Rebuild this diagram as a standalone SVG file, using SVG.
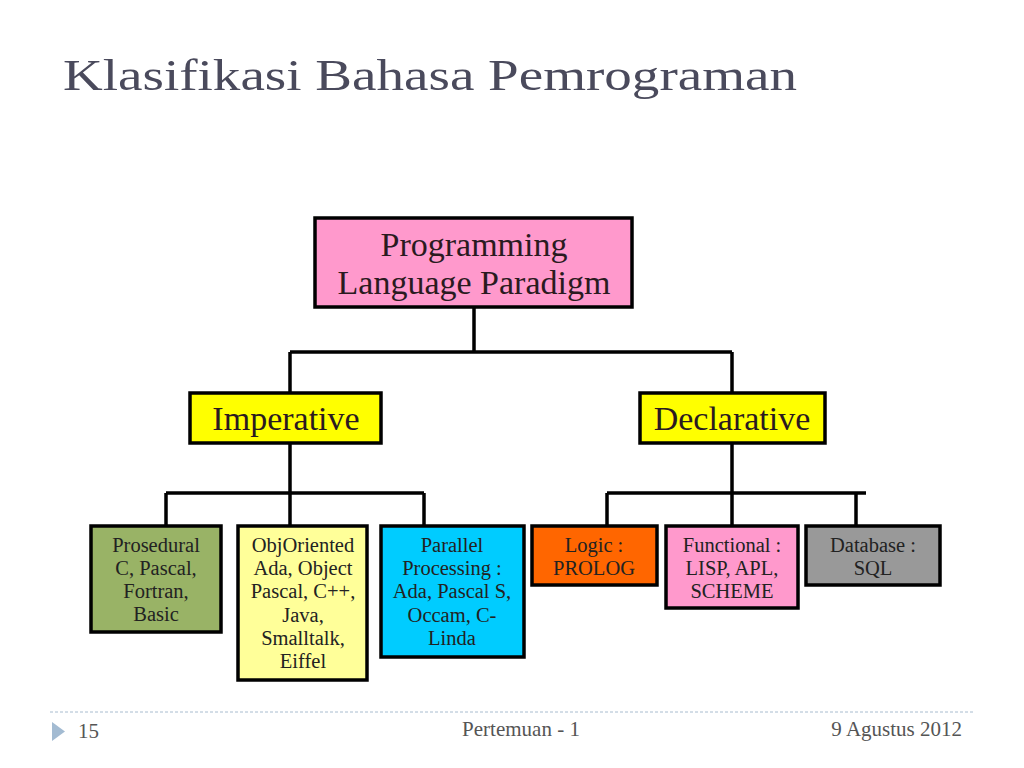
<svg xmlns="http://www.w3.org/2000/svg" width="1024" height="768" viewBox="0 0 1024 768">
<style>
.box{stroke:#000;stroke-width:3.5}
.big{font-family:"Liberation Serif",serif;font-size:34px;fill:#2a1a20;text-anchor:middle}
.leaf{font-family:"Liberation Serif",serif;font-size:20.5px;fill:#222;text-anchor:middle}
.conn{stroke:#000;stroke-width:3.5;fill:none}
.foot{font-family:"Liberation Serif",serif;font-size:21px;fill:#555}
</style>
<rect width="1024" height="768" fill="#fff"/>
<text x="63" y="90" font-family="Liberation Serif,serif" font-size="45" fill="#4a4a5c" textLength="734" lengthAdjust="spacingAndGlyphs">Klasifikasi Bahasa Pemrograman</text>

<g id="connectors">
<path class="conn" d="M474 307V352M290 352H732M290 352V393M732 352V393"/>
<path class="conn" d="M290 443V526M166 493H424M166 493V526M424 493V526"/>
<path class="conn" d="M732 443V530M607 493H866M607 493V526M856 493V526"/>
</g>

<g id="root">
<rect class="box" x="315" y="218" width="317" height="89" fill="#ff99cc"/>
<text class="big" x="474" y="256">Programming</text>
<text class="big" x="474" y="294">Language Paradigm</text>
</g>
<g id="imperative">
<rect class="box" x="190" y="393" width="191" height="50" fill="#ffff00"/>
<text class="big" x="286" y="430">Imperative</text>
</g>
<g id="declarative">
<rect class="box" x="640" y="393" width="185" height="50" fill="#ffff00"/>
<text class="big" x="732" y="430">Declarative</text>
</g>

<g id="prosedural">
<rect class="box" x="91" y="526" width="130" height="106" fill="#99b366"/>
<text class="leaf" x="156" y="552">Prosedural</text>
<text class="leaf" x="156" y="575">C, Pascal,</text>
<text class="leaf" x="156" y="598">Fortran,</text>
<text class="leaf" x="156" y="621">Basic</text>
</g>
<g id="objoriented">
<rect class="box" x="238" y="526" width="129" height="154" fill="#ffff99"/>
<text class="leaf" x="303" y="552">ObjOriented</text>
<text class="leaf" x="303" y="575">Ada, Object</text>
<text class="leaf" x="303" y="598">Pascal, C++,</text>
<text class="leaf" x="303" y="622">Java,</text>
<text class="leaf" x="303" y="645">Smalltalk,</text>
<text class="leaf" x="303" y="668">Eiffel</text>
</g>
<g id="parallel">
<rect class="box" x="381" y="526" width="143" height="131" fill="#00ccff"/>
<text class="leaf" x="452" y="552">Parallel</text>
<text class="leaf" x="452" y="575">Processing :</text>
<text class="leaf" x="452" y="598">Ada, Pascal S,</text>
<text class="leaf" x="452" y="622">Occam, C-</text>
<text class="leaf" x="452" y="645">Linda</text>
</g>
<g id="logic">
<rect class="box" x="532" y="526" width="125" height="59" fill="#ff6600"/>
<text class="leaf" x="594" y="552">Logic :</text>
<text class="leaf" x="594" y="575">PROLOG</text>
</g>
<g id="functional">
<rect class="box" x="666" y="526" width="132" height="82" fill="#ff99cc"/>
<text class="leaf" x="732" y="552">Functional :</text>
<text class="leaf" x="732" y="575">LISP, APL,</text>
<text class="leaf" x="732" y="598">SCHEME</text>
</g>
<g id="database">
<rect class="box" x="806" y="526" width="134" height="59" fill="#999999"/>
<text class="leaf" x="873" y="552">Database :</text>
<text class="leaf" x="873" y="575">SQL</text>
</g>

<g id="footer">
<line x1="50" y1="712" x2="975" y2="712" stroke="#a8bccf" stroke-width="1" stroke-dasharray="3,2"/>
<polygon points="52,722 65,731.5 52,741" fill="#a3bbd2"/>
<text class="foot" x="78" y="738">15</text>
<text class="foot" x="521" y="736" text-anchor="middle">Pertemuan - 1</text>
<text class="foot" x="962" y="736" text-anchor="end">9 Agustus 2012</text>
</g>
</svg>
